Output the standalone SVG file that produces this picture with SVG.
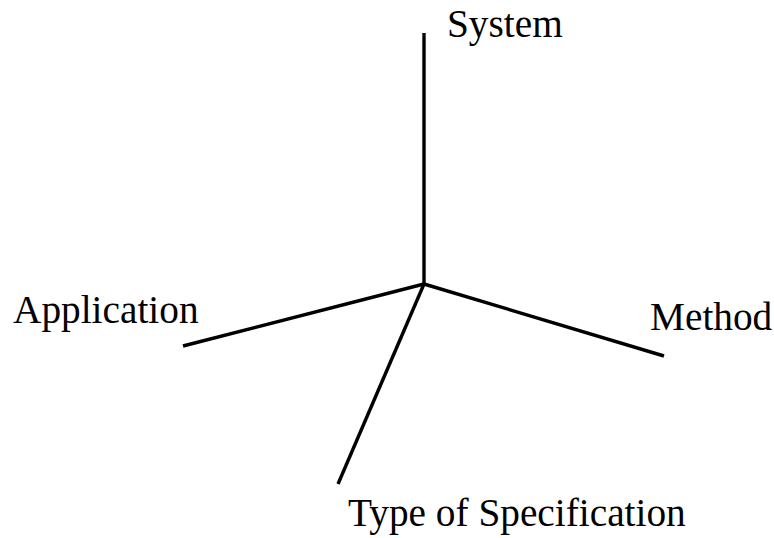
<svg xmlns="http://www.w3.org/2000/svg" width="774" height="538" viewBox="0 0 774 538">
  <style>
    .axis { stroke: #000; stroke-width: 3.4; stroke-linecap: butt; fill: none; }
    .lbl { font-family: "Liberation Serif", "Times New Roman", serif; font-size: 39.3px; fill: #000; }
  </style>
  <rect width="774" height="538" fill="#fff"/>
  <g id="connectors">
    <line class="axis" x1="424" y1="284" x2="424" y2="33"/>
    <line class="axis" x1="424" y1="284" x2="183" y2="346"/>
    <line class="axis" x1="424" y1="284" x2="664" y2="356"/>
    <line class="axis" x1="424" y1="284" x2="338" y2="484"/>
  </g>
  <g id="system"><text class="lbl" x="447" y="37">System</text></g>
  <g id="application"><text class="lbl" x="13" y="323">Application</text></g>
  <g id="method"><text class="lbl" x="650" y="330">Method</text></g>
  <g id="type-of-specification"><text class="lbl" x="348" y="526">Type of Specification</text></g>
</svg>
